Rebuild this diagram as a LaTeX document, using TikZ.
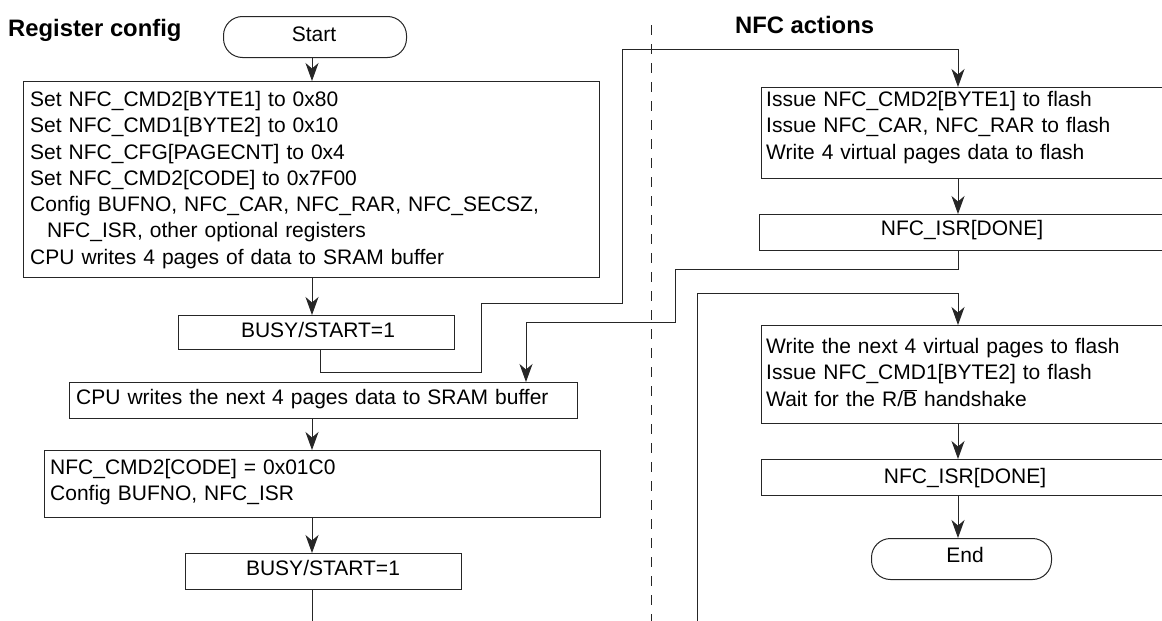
\documentclass[tikz,border=0pt]{standalone}
\usepackage{fontspec}
\setmainfont{Liberation Sans}
\usetikzlibrary{arrows.meta}
\newcommand\ovlB{$\overline{\hbox{B}}$}
\tikzset{
  ln/.style={line width=1pt, draw=black!85},
  arr/.style={ln, -{Stealth[length=18pt,width=13pt,inset=5.5pt]}},
  box/.style={ln, rectangle, anchor=north west, inner sep=0pt},
  term/.style={ln, rectangle, rounded corners=19pt, anchor=north west, inner sep=0pt},
  txt/.style={inner sep=0pt, font=\fontsize{21}{26.3}\selectfont},
  ctxt/.style={txt, anchor=base},
  mtxt/.style={txt, anchor=base west, align=left, text width=#1},
  head/.style={inner sep=0pt, anchor=base west, font=\fontsize{23.8}{28}\selectfont\bfseries},
}
\begin{document}
\begin{tikzpicture}[x=1pt,y=-1pt]
\useasboundingbox (0,0) rectangle (1162,621);
\fill[white] (0,0) rectangle (1162,621);
\clip (0,0) rectangle (1162,621);

% headings
\node[head] (h1) at (8,36) {Register config};
\node[head] (h2) at (735,33) {NFC actions};

% column coordinates
\coordinate (cL) at (312,0);
\coordinate (cR) at (958,0);
\coordinate (c320) at (320,0);

% left column
\node[term, minimum width=183pt, minimum height=41pt] (start) at (223,16) {};
\node[ctxt] (startt) at (314,41.5) {Start};

\node[box, minimum width=576pt, minimum height=196pt] (b1) at (23,81) {};
\node[mtxt=560pt] (b1t) at (30,106.4) {Set NFC\_CMD2[BYTE1] to 0x80\\
Set NFC\_CMD1[BYTE2] to 0x10\\
Set NFC\_CFG[PAGECNT] to 0x4\\
Set NFC\_CMD2[CODE] to 0x7F00\\
Config BUFNO, NFC\_CAR, NFC\_RAR, NFC\_SECSZ,\\
\hspace*{17pt}NFC\_ISR, other optional registers\\
CPU writes 4 pages of data to SRAM buffer};

\node[box, minimum width=276pt, minimum height=34pt] (busy1) at (178,315) {};
\node[ctxt] (busy1t) at (318,337.5) {BUSY/START=1};

\node[box, minimum width=508pt, minimum height=36pt] (cpu) at (69,382) {};
\node[mtxt=500pt] (cput) at (76,404.4) {CPU writes the next 4 pages data to SRAM buffer};

\node[box, minimum width=556pt, minimum height=67pt] (cmd) at (44,450) {};
\node[mtxt=540pt] (cmdt) at (50,474.4) {NFC\_CMD2[CODE] = 0x01C0\\
Config BUFNO, NFC\_ISR};

\node[box, minimum width=276pt, minimum height=36pt] (busy2) at (185,553) {};
\node[ctxt] (busy2t) at (323,575.5) {BUSY/START=1};

% right column
\node[box, minimum width=420pt, minimum height=91pt] (issue) at (761,87) {};
\node[mtxt=400pt] (issuet) at (766,106.4) {Issue NFC\_CMD2[BYTE1] to flash\\
Issue NFC\_CAR, NFC\_RAR to flash\\
Write 4 virtual pages data to flash};

\node[box, minimum width=420pt, minimum height=36pt] (isr1) at (759,214) {};
\node[ctxt] (isr1t) at (962,235.5) {NFC\_ISR[DONE]};

\node[box, minimum width=420pt, minimum height=98pt] (write) at (761,325) {};
\node[mtxt=400pt] (writet) at (766,353.4) {Write the next 4 virtual pages to flash\\
Issue NFC\_CMD1[BYTE2] to flash\\
Wait for the R/\ovlB{} handshake};

\node[box, minimum width=420pt, minimum height=36pt] (isr2) at (761,459) {};
\node[ctxt] (isr2t) at (965,483) {NFC\_ISR[DONE]};

\node[term, minimum width=180pt, minimum height=41pt] (endn) at (871,538) {};
\node[ctxt] (endt) at (965,562.5) {End};

% helper coordinates
\coordinate (j1) at (481,372);
\coordinate (j2) at (622,303);
\coordinate (j3) at (622,49);
\coordinate (k1) at (675,269);
\coordinate (k2) at (526,322);
\coordinate (m0) at (697,625);
\coordinate (m1) at (697,293);
\coordinate (bout) at (312,625);
\coordinate (d0) at (651,25);
\coordinate (d1) at (651,625);

% divider
\draw[ln, dash pattern=on 10pt off 9pt] (d0) -- (d1);

% connectors
\draw[arr] (start.south -| cL) -- (b1.north -| cL);
\draw[arr] (b1.south -| cL) -- (busy1.north -| cL);
\draw[arr] (busy1.south -| c320) |- (j1) |- (j2) -- (j3) -| (issue.north -| cR);
\draw[arr] (issue.south -| cR) -- (isr1.north -| cR);
\draw[arr] (isr1.south -| cR) |- (k1) |- (k2) -- (cpu.north -| k2);
\draw[arr] (cpu.south -| cL) -- (cmd.north -| cL);
\draw[arr] (cmd.south -| cL) -- (busy2.north -| cL);
\draw[ln] (busy2.south -| cL) -- (bout);
\draw[arr] (m0) -- (m1) -| (write.north -| cR);
\draw[arr] (write.south -| cR) -- (isr2.north -| cR);
\draw[arr] (isr2.south -| cR) -- (endn.north -| cR);
\end{tikzpicture}
\end{document}
